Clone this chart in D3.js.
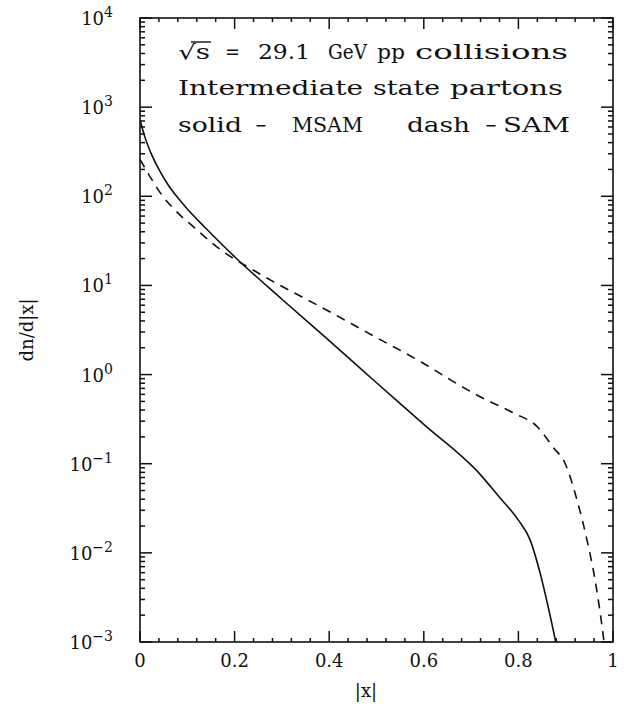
<!DOCTYPE html>
<html>
<head>
<meta charset="utf-8">
<script src="https://cdn.jsdelivr.net/npm/d3@7"></script>
<style>
  html, body { margin: 0; padding: 0; background: #fff; }
  svg { display: block; }
  text { font-family: "DejaVu Serif", "Liberation Serif", serif; fill: #111; }
</style>
</head>
<body>
<svg id="chart" width="628" height="704"></svg>
<script>
// Parton spectra dn/d|x| at sqrt(s) = 29.1 GeV
const xMSAM = [0, 0.01, 0.023, 0.04, 0.06, 0.08, 0.1, 0.137, 0.2, 0.3, 0.4, 0.5, 0.6, 0.72, 0.76, 0.8, 0.825, 0.846, 0.863, 0.879];
const yMSAM = [720, 467, 307, 200, 133, 96, 72, 45, 21, 7.0, 2.4, 0.81, 0.276, 0.075, 0.042, 0.0233, 0.0139, 0.0059, 0.00247, 0.001];

const xSAM = [0, 0.023, 0.047, 0.074, 0.116, 0.171, 0.239, 0.4, 0.5, 0.598, 0.66, 0.72, 0.79, 0.84, 0.873, 0.899, 0.924, 0.945, 0.962, 0.977, 0.981];
const ySAM = [260, 160, 102, 70, 44, 25, 14.9, 5.1, 2.6, 1.35, 0.85, 0.56, 0.37, 0.26, 0.154, 0.10, 0.039, 0.0139, 0.005, 0.00147, 0.001];

const xTickValues = [0, 0.2, 0.4, 0.6, 0.8, 1];
const xTickLabels = ["0", "0.2", "0.4", "0.6", "0.8", "1"];
const yDecadeExps = [-3, -2, -1, 0, 1, 2, 3, 4];

const svg = d3.select("#chart");
const pLeft = 140, pRight = 613, pTop = 18, pBottom = 642;

const x = d3.scaleLinear().domain([0, 1]).range([pLeft, pRight]);
const y = d3.scaleLog().domain([1e-3, 1e4]).range([pBottom, pTop]);

const xMinor = d3.range(1, 25).map(i => i * 0.04).filter((v, i) => (i + 1) % 5 !== 0);
const yMajor = yDecadeExps.map(e => Math.pow(10, e));
const yMinor = [];
yDecadeExps.slice(0, -1).forEach(e => { for (let k = 2; k <= 9; k++) yMinor.push(k * Math.pow(10, e)); });

// frame
svg.append("rect")
  .attr("x", pLeft).attr("y", pTop)
  .attr("width", pRight - pLeft).attr("height", pBottom - pTop)
  .attr("fill", "none").attr("stroke", "#111").attr("stroke-width", 1.6);

// inward ticks on all four sides, drawn as thin filled bars
const tw = 1.5;
const tickBars = [];
[[xTickValues, 11], [xMinor, 4]].forEach(([vals, len]) => {
  vals.forEach(v => {
    tickBars.push({ x: x(v) - tw / 2, y: pBottom - len, w: tw, h: len });
    tickBars.push({ x: x(v) - tw / 2, y: pTop, w: tw, h: len });
  });
});
[[yMajor, 12], [yMinor, 5]].forEach(([vals, len]) => {
  vals.forEach(v => {
    tickBars.push({ x: pLeft, y: y(v) - tw / 2, w: len, h: tw });
    tickBars.push({ x: pRight - len, y: y(v) - tw / 2, w: len, h: tw });
  });
});
svg.append("g").attr("fill", "#111")
  .selectAll("rect").data(tickBars).join("rect")
  .attr("x", d => d.x).attr("y", d => d.y)
  .attr("width", d => d.w).attr("height", d => d.h);

// x tick labels
svg.append("g").selectAll("text").data(xTickValues).join("text")
  .attr("x", d => x(d)).attr("y", 667)
  .attr("text-anchor", "middle").attr("font-size", 18)
  .text((d, i) => xTickLabels[i]);

// y tick labels: 10 with superscript exponent
const yl = svg.append("g").selectAll("text").data(yDecadeExps).join("text")
  .attr("x", 113).attr("y", e => y(Math.pow(10, e)) + 7)
  .attr("text-anchor", "end").attr("font-size", 18);
yl.append("tspan").text("10");
yl.append("tspan").attr("dy", -8).attr("font-size", 14)
  .text(e => (e < 0 ? "\u2212" : "") + Math.abs(e));

// axis titles
svg.append("text").attr("x", 366).attr("y", 697)
  .attr("text-anchor", "middle").attr("font-size", 18).text("|x|");
svg.append("text")
  .attr("transform", "translate(33,330) rotate(-90)")
  .attr("text-anchor", "middle").attr("font-size", 18).text("dn/d|x|");

// curves
svg.append("clipPath").attr("id", "plotclip")
  .append("rect").attr("x", pLeft).attr("y", pTop)
  .attr("width", pRight - pLeft).attr("height", pBottom - pTop);

const line = d3.line()
  .x(d => x(d[0])).y(d => y(d[1]))
  .curve(d3.curveMonotoneX);

svg.append("path")
  .datum(d3.zip(xMSAM, yMSAM))
  .attr("clip-path", "url(#plotclip)")
  .attr("d", line).attr("fill", "none")
  .attr("stroke", "#111").attr("stroke-width", 1.6);

svg.append("path")
  .datum(d3.zip(xSAM, ySAM))
  .attr("clip-path", "url(#plotclip)")
  .attr("d", line).attr("fill", "none")
  .attr("stroke", "#111").attr("stroke-width", 1.6)
  .attr("stroke-dasharray", "9,7");

// annotation block: word pieces placed at their start and stretched to width
const notes = [
  { y: 59, parts: [["\u221As", 178, 32], ["=", 225, 15], ["29.1", 258, 52], ["GeV", 328, 39], ["pp", 377, 28], ["collisions", 415, 153]] },
  { y: 95, parts: [["Intermediate", 178, 185], ["state", 373, 67], ["partons", 450, 113]] },
  { y: 132, parts: [["solid", 178, 64], ["\u2212", 255, 12], ["MSAM", 292, 71], ["dash", 407, 63], ["\u2212", 485, 12], ["SAM", 503, 67]] }
];
notes.forEach(row => {
  row.parts.forEach(([t, px, w]) => {
    svg.append("text")
      .attr("x", px).attr("y", row.y)
      .attr("font-size", 20)
      .attr("textLength", w).attr("lengthAdjust", "spacingAndGlyphs")
      .text(t);
  });
});
// overbar of the square root across "s"
svg.append("line")
  .attr("x1", 191).attr("x2", 211).attr("y1", 42).attr("y2", 42)
  .attr("stroke", "#111").attr("stroke-width", 1.4);
</script>
</body>
</html>
